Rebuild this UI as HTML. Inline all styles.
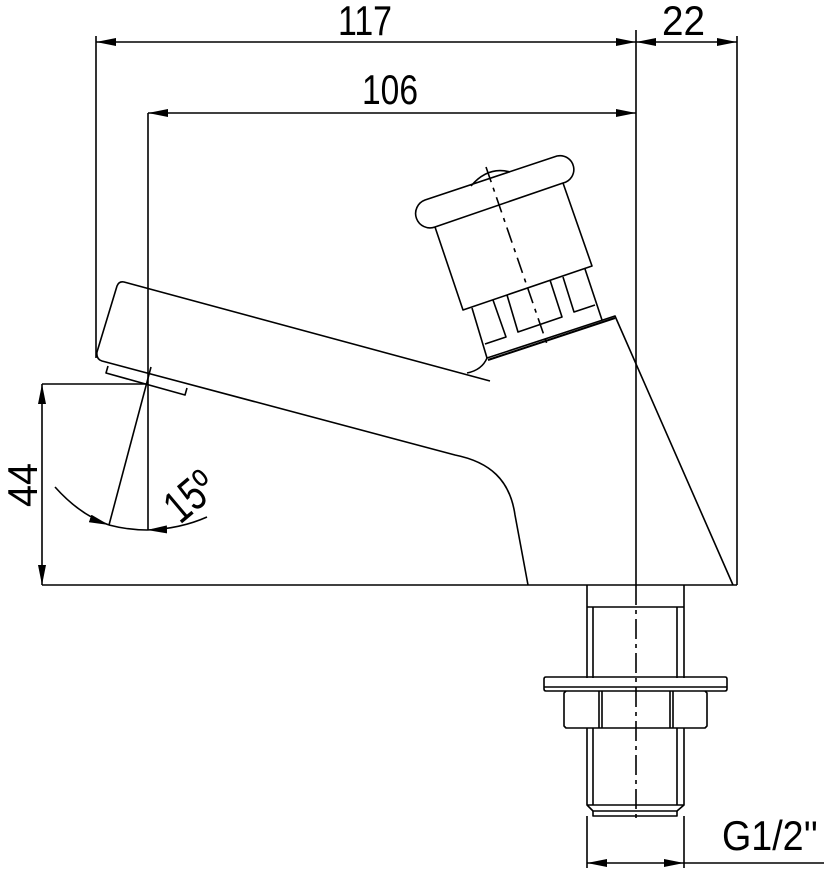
<!DOCTYPE html>
<html><head><meta charset="utf-8"><style>html,body{margin:0;padding:0;background:#fff}svg{display:block}</style></head>
<body>
<svg width="824" height="874" viewBox="0 0 824 874" xmlns="http://www.w3.org/2000/svg">
<defs>
<marker id="a" viewBox="0 0 20 8" refX="20" refY="4" markerWidth="20" markerHeight="8" markerUnits="userSpaceOnUse" orient="auto-start-reverse"><path d="M0,0 L20,4 L0,8 Z" fill="#000"/></marker>
</defs>
<g fill="none" stroke="#000" stroke-width="1.6" stroke-linejoin="round">
<line x1="96" y1="42" x2="636" y2="42" marker-start="url(#a)" marker-end="url(#a)"/>
<line x1="96" y1="36" x2="96" y2="358"/>
<line x1="636" y1="30" x2="636" y2="585"/>
<line x1="737" y1="36" x2="737" y2="585"/>
<line x1="636" y1="42" x2="660" y2="42" marker-start="url(#a)"/>
<line x1="710" y1="42" x2="737" y2="42" marker-end="url(#a)"/>
<line x1="660" y1="42" x2="710" y2="42"/>
<line x1="148" y1="113" x2="636" y2="113" marker-start="url(#a)" marker-end="url(#a)"/>
<line x1="148" y1="113" x2="148" y2="530"/>
<line x1="42" y1="384" x2="148" y2="384"/>
<line x1="42" y1="384" x2="42" y2="585" marker-start="url(#a)" marker-end="url(#a)"/>
<line x1="42" y1="585" x2="737" y2="585"/>
<line x1="151" y1="367" x2="109" y2="525"/>
<path d="M55,487 Q80,515 109,525" marker-end="url(#a)"/>
<path d="M207,517 Q180,529 147,530" marker-end="url(#a)"/>
<path d="M109,525 Q128,530 147,530"/>
<path d="M490,381 L124,282 Q119,281 117,286 L97,352 Q96,359 102,361 L455,455 C490,462 510,480 515,515 L528,585"/>
<path d="M108,366 L106,373 L185,395 L187,388"/>
<path d="M467,373 Q482,370 487,358 L615,316 L733,585"/>
<path d="M488,360 L615,318" stroke-width="2"/>
<path d="M472,308 L487,358"/>
<path d="M585,269 L602,320"/>
<path d="M493,300 L506,337 L485,344"/>
<path d="M507,295 L518,332 L562,317 L550,280"/>
<path d="M563,277 L574,312 L595,305"/>
<path d="M435,227 L463,310 L592,266 L563,183"/>
<path d="M425,200 L557,156 A13,13 0 0 1 563,183 L435,227 A14,14 0 0 1 425,200 Z"/>
<path d="M471,186 Q488,166 510,172"/>
<line x1="486" y1="167" x2="548" y2="347" stroke-dasharray="16,6,4,6"/>
<path d="M587,585 L587,678 M684,585 L684,678 M587,607 L684,607 M593,607 L593,678 M677,607 L677,678"/>
<path d="M546,677 L725,677 Q727,677 727,679 L727,689 Q727,691 725,691 L546,691 Q544,691 544,689 L544,679 Q544,677 546,677 Z"/>
<line x1="544" y1="687" x2="727" y2="687"/>
<path d="M566,691 L564,693 L564,726 L566,728 L705,728 L707,726 L707,693 L705,691"/>
<path d="M599,691 L599,728 M602,691 L602,728 M670,691 L670,728 M673,691 L673,728"/>
<path d="M587,728 L587,805 L593,811 L677,811 L684,805 L684,728 M593,728 L593,805 M677,728 L677,805 M587,805 L684,805"/>
<path d="M593,811 L593,816 L677,816 L677,811"/>
<line x1="587" y1="816" x2="587" y2="868"/>
<line x1="684" y1="816" x2="684" y2="868"/>
<line x1="587" y1="863" x2="684" y2="863" marker-start="url(#a)" marker-end="url(#a)"/>
<line x1="684" y1="863" x2="824" y2="863"/>
<line x1="636" y1="585" x2="636" y2="823" stroke-dasharray="20,5,4,5"/>
</g>
<g font-family="Liberation Sans, sans-serif" font-size="42" fill="#000">
<text x="338" y="35" textLength="54" lengthAdjust="spacingAndGlyphs">117</text>
<text x="362" y="104" textLength="56" lengthAdjust="spacingAndGlyphs">106</text>
<text x="662" y="35" textLength="43" lengthAdjust="spacingAndGlyphs">22</text>
<text x="722" y="850" textLength="96" lengthAdjust="spacingAndGlyphs">G1/2''</text>
<text transform="translate(37,507) rotate(-90)" textLength="44" lengthAdjust="spacingAndGlyphs">44</text>
<text transform="translate(180,525) rotate(-40)" font-size="46" textLength="52" lengthAdjust="spacingAndGlyphs">15º</text>
</g>
</svg>
</body></html>
